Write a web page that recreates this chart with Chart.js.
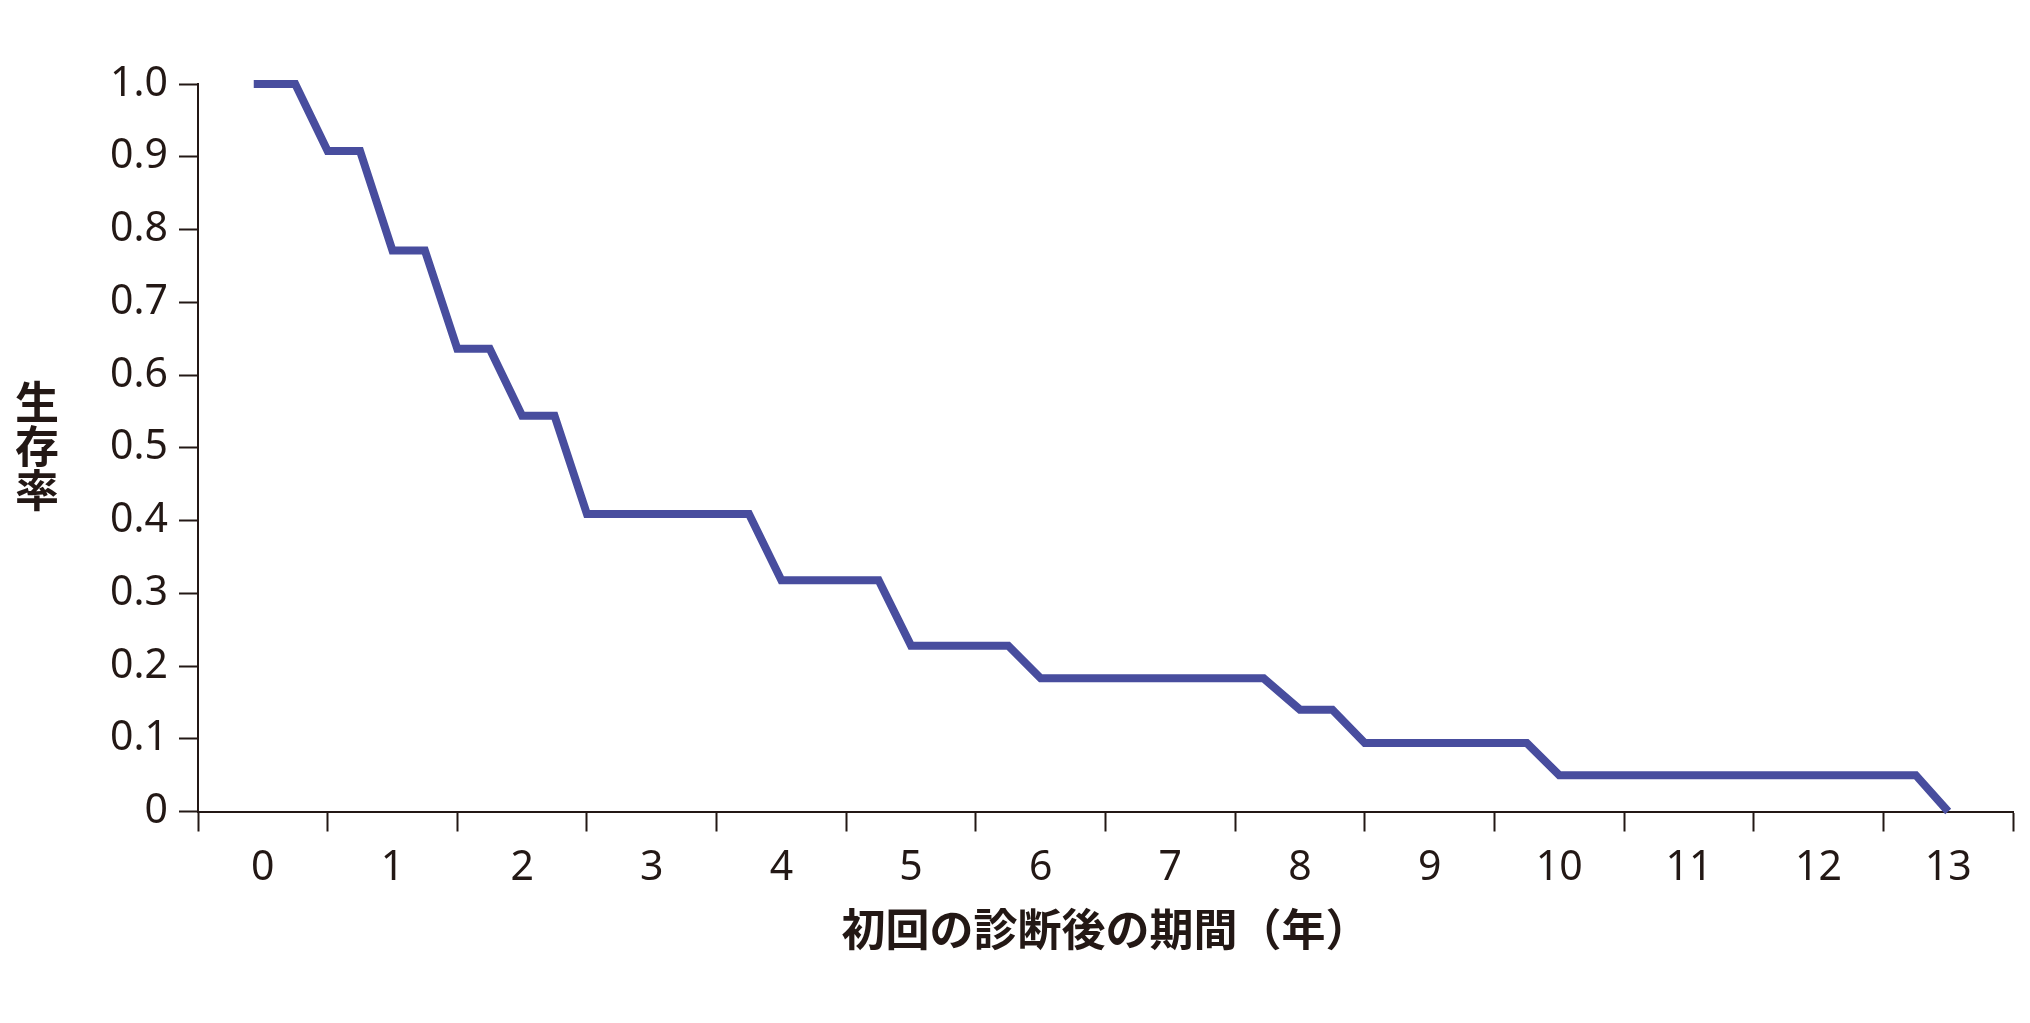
<!DOCTYPE html>
<html lang="ja">
<head>
<meta charset="utf-8">
<title>生存率</title>
<script src="https://cdn.jsdelivr.net/npm/chart.js@4.4.1/dist/chart.umd.min.js"></script>
<style>
    html, body { margin: 0; padding: 0; background: #ffffff; }
    #wrap { position: relative; width: 2030px; height: 1023px; }
    #yTitle {
        position: absolute;
        left: 37px;
        top: 446px;
        transform: translate(-50%, -50%);
        writing-mode: vertical-rl;
        text-orientation: upright;
        font-family: "Noto Sans CJK JP", sans-serif;
        font-weight: 700;
        font-size: 44px;
        line-height: 1;
        color: #231815;
    }
</style>
</head>
<body>
<div id="wrap">
    <canvas id="survivalChart"></canvas>
    <div id="yTitle">生存率</div>
</div>
<script>
// Données (courbe de survie en escalier)
const timeYears = [-0.07, 0.25, 0.5, 0.75, 1.0, 1.25, 1.5, 1.75, 2.0, 2.25, 2.5, 3.75,
    4.0, 4.75, 5.0, 5.75, 6.0, 7.72, 8.0, 8.25, 8.5, 9.75, 10.0, 12.75, 13.0];
const survivalRate = [1.0, 1.0, 0.908, 0.908, 0.771, 0.771, 0.636, 0.636, 0.544, 0.544, 0.409, 0.409,
    0.318, 0.318, 0.228, 0.228, 0.183, 0.183, 0.14, 0.14, 0.094, 0.094, 0.05, 0.05, 0];

// Graduations
const xTickValues = [0, 1, 2, 3, 4, 5, 6, 7, 8, 9, 10, 11, 12, 13];
const yTickValues = [0, 0.1, 0.2, 0.3, 0.4, 0.5, 0.6, 0.7, 0.8, 0.9, 1.0];
const yTickLabels = ['0', '0.1', '0.2', '0.3', '0.4', '0.5', '0.6', '0.7', '0.8', '0.9', '1.0'];

// Titres
const xTitle = '初回の診断後の期間（年）';

const ink = '#231815';
const lineColor = '#484d9e';

const points = timeYears.map((t, i) => ({ x: t, y: survivalRate[i] }));

// x: étiquettes au centre, traits de graduation entre les années
function buildXTicks(scale) {
    const ticks = [];
    xTickValues.forEach(v => {
        ticks.push({ value: v - 0.5 });
        ticks.push({ value: v });
    });
    ticks.push({ value: xTickValues[xTickValues.length - 1] + 0.5 });
    scale.ticks = ticks;
}

const ctx = document.getElementById('survivalChart');
new Chart(ctx, {
    type: 'line',
    data: {
        datasets: [{
            data: points,
            borderColor: lineColor,
            borderWidth: 8,
            borderJoinStyle: 'miter',
            borderCapStyle: 'butt',
            pointRadius: 0,
            tension: 0,
            fill: false,
            clip: { left: 10, top: 10, right: 10, bottom: 4 }
        }]
    },
    options: {
        responsive: true,
        maintainAspectRatio: false,
        devicePixelRatio: 1,
        animation: false,
        layout: { padding: { left: 0, top: 84, right: 17, bottom: 0 } },
        plugins: {
            legend: { display: false },
            tooltip: { enabled: false }
        },
        scales: {
            x: {
                type: 'linear',
                min: -0.5,
                max: 13.5,
                afterBuildTicks: buildXTicks,
                afterFit: scale => { scale.height = 211.5; },
                border: { display: true, color: ink, width: 2 },
                grid: {
                    drawOnChartArea: false,
                    drawTicks: true,
                    tickLength: 20,
                    tickWidth: 2,
                    tickColor: c => Number.isInteger(c.tick.value) ? 'rgba(0,0,0,0)' : ink
                },
                ticks: {
                    autoSkip: false,
                    maxRotation: 0,
                    padding: 12,
                    color: ink,
                    font: { family: '"Noto Sans", sans-serif', size: 41 },
                    callback: v => Number.isInteger(v) ? String(v) : ''
                },
                title: {
                    display: true,
                    text: xTitle,
                    color: ink,
                    font: { family: '"Noto Sans CJK JP", sans-serif', size: 44, weight: 'bold' },
                    padding: { top: 0, bottom: 67 }
                }
            },
            y: {
                type: 'linear',
                min: 0,
                max: 1,
                afterBuildTicks: scale => { scale.ticks = yTickValues.map(v => ({ value: v })); },
                afterFit: scale => { scale.width = 198; },
                border: { display: true, color: ink, width: 2 },
                grid: {
                    drawOnChartArea: false,
                    drawTicks: true,
                    tickLength: 19,
                    tickWidth: 2,
                    tickColor: ink
                },
                ticks: {
                    padding: 11,
                    color: ink,
                    font: { family: '"Noto Sans", sans-serif', size: 41 },
                    callback: (v, i) => yTickLabels[i]
                }
            }
        }
    }
});
</script>
</body>
</html>
